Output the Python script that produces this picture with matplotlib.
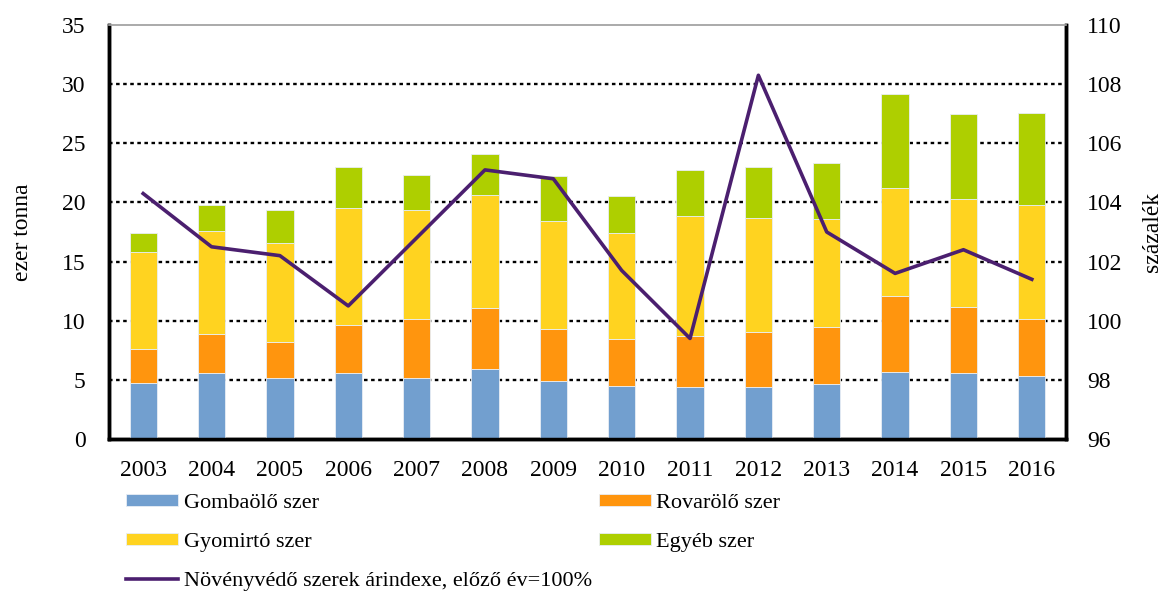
import numpy as np
import matplotlib
matplotlib.use("Agg")
import matplotlib.pyplot as plt

years = ["2003", "2004", "2005", "2006", "2007", "2008", "2009",
         "2010", "2011", "2012", "2013", "2014", "2015", "2016"]
gomba = [4.73, 5.55, 5.19, 5.61, 5.13, 5.95, 4.87, 4.51, 4.37, 4.43, 4.65, 5.69, 5.61, 5.35]
rovar = [2.87, 3.32, 3.00, 4.02, 5.01, 5.09, 4.40, 3.91, 4.33, 4.61, 4.78, 6.39, 5.54, 4.82]
gyom = [8.23, 8.70, 8.34, 9.88, 9.23, 9.63, 9.12, 8.98, 10.13, 9.68, 9.21, 9.12, 9.12, 9.65]
egyeb = [1.57, 2.25, 2.79, 3.52, 2.96, 3.46, 3.86, 3.16, 3.92, 4.25, 4.70, 7.94, 7.21, 7.75]
arindex = [104.3, 102.5, 102.2, 100.5, 102.8, 105.1, 104.8,
           101.7, 99.4, 108.3, 103.0, 101.6, 102.4, 101.4]

plt.rcParams['font.family'] = ['Liberation Serif', 'DejaVu Serif']
fs = 17
lfs = 16

fig = plt.figure(figsize=(11.67, 5.93), dpi=100)
ax = fig.add_axes([109 / 1167, 1 - 439 / 593, (1066 - 109) / 1167, (439 - 25) / 593])
ax2 = ax.twinx()

x = np.arange(len(years))
w = 0.4
b1 = np.array(gomba)
b2 = b1 + np.array(rovar)
b3 = b2 + np.array(gyom)
ec = "#e8eef5"
h1 = ax.bar(x, gomba, w, color="#729fcf", edgecolor=ec, linewidth=0.6, zorder=3)
h2 = ax.bar(x, rovar, w, bottom=b1, color="#ff950e", edgecolor=ec, linewidth=0.6, zorder=3)
h3 = ax.bar(x, gyom, w, bottom=b2, color="#ffd320", edgecolor=ec, linewidth=0.6, zorder=3)
h4 = ax.bar(x, egyeb, w, bottom=b3, color="#aecf00", edgecolor=ec, linewidth=0.6, zorder=3)

ln, = ax2.plot(x, arindex, color="#4b1f6f", linewidth=2.6, zorder=4)

ax.set_xlim(-0.5, len(years) - 0.5)
ax.set_ylim(0, 35)
ax.set_yticks(range(0, 36, 5))
ax2.set_ylim(96, 110)
ax2.set_yticks(range(96, 111, 2))
ax.set_xticks(x)
ax.set_xticklabels(years)

for v in range(5, 35, 5):
    ax.axhline(v, color="black", linewidth=1.7, linestyle=(0, (1.5, 1.5)), zorder=1)

ax.tick_params(axis="y", length=0, labelsize=fs, pad=17)
ax.tick_params(axis="x", length=0, labelsize=fs, pad=15)
ax2.tick_params(axis="y", length=0, labelsize=fs, pad=15)

for a in (ax, ax2):
    a.spines["left"].set_linewidth(2.5)
    a.spines["bottom"].set_linewidth(2.5)
    a.spines["right"].set_linewidth(2.5)
    a.spines["top"].set_color("#aaaaaa")
    a.spines["top"].set_linewidth(1.2)
    a.spines["top"].set_linestyle((0, (2, 1)))

ax.set_ylabel("ezer tonna", fontsize=fs, labelpad=21)
ax2.set_ylabel("százalék", fontsize=fs, rotation=90, labelpad=14)

handles = [h1, h3, ln, h2, h4]
labels = ["Gombaölő szer", "Gyomirtó szer",
          "Növényvédő szerek árindexe, előző év=100%",
          "Rovarölő szer", "Egyéb szer"]
leg = fig.legend(handles, labels, ncol=2, loc="upper left",
                 bbox_to_anchor=(126 / 1167, 1 - 494 / 593),
                 frameon=False, fontsize=lfs, handlelength=2.35,
                 handleheight=0.45, handletextpad=0.25, columnspacing=0.3,
                 labelspacing=0.9, borderpad=0, borderaxespad=0)

fig.savefig("out.png", dpi=100)
